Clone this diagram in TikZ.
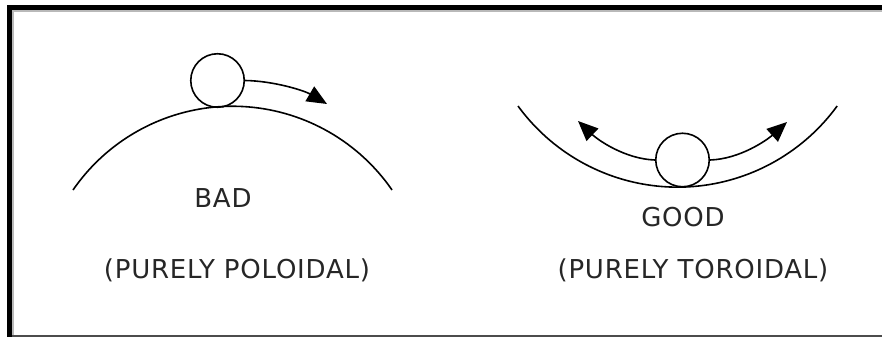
\documentclass[tikz,border=0pt]{standalone}
\usepackage{fontspec}
\setmainfont[LetterSpace=3]{DejaVu Sans}
\usetikzlibrary{arrows.meta}
\begin{document}
\begin{tikzpicture}[x=1pt,y=-1pt,
  curve/.style={line width=1.6pt},
  ball/.style={circle, draw, line width=1.6pt, minimum size=53.5pt, inner sep=0pt},
  motion/.style={line width=1.6pt, -{Triangle[length=20pt,width=17pt]}},
  lbl/.style={font=\fontsize{26}{31}\selectfont, text=black!85, inner sep=0pt, anchor=base}]
\useasboundingbox (0,0) rectangle (882,337);
% frame
\fill[gray!55] (11,9) rectangle (14,337);
\fill[gray!55] (11,9) rectangle (882,12);
\fill (7,5) rectangle (11.5,337);
\fill (7,5) rectangle (882,10);
\fill[black!70] (11.5,335) rectangle (882,337);
% left: hill
\draw[curve] (73,190) arc[start angle=214.6, end angle=325.4, radius=193.8];
\node[ball] (b1) at (217.5,80.5) {};
\coordinate (t1) at (327,104);
\draw[motion] (b1.east) .. controls (275,81) and (305,91) .. (t1);
\node[lbl] (bad) at (223,207) {BAD};
\node[lbl] (pol) at (237,278) {(PURELY POLOIDAL)};
% right: bowl
\draw[curve] (518,106) arc[start angle=143.9, end angle=36.1, radius=197.5];
\node[ball] (b2) at (682.5,160) {};
\coordinate (t2) at (578,121);
\coordinate (t3) at (787,122);
\draw[motion] (b2.west) .. controls (625,159) and (598,140) .. (t2);
\draw[motion] (b2.east) .. controls (740,159) and (767,140) .. (t3);
\node[lbl] (good) at (683,226) {GOOD};
\node[lbl] (tor) at (693,278) {(PURELY TOROIDAL)};
\end{tikzpicture}
\end{document}
